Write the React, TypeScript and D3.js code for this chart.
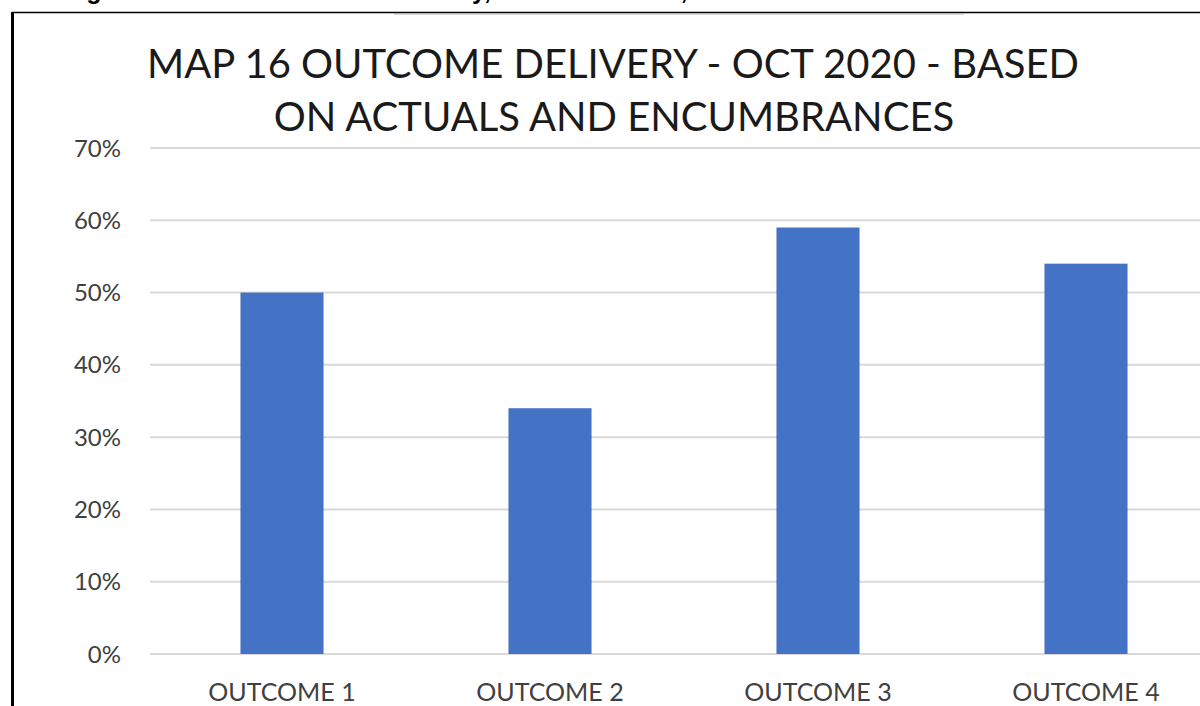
import React from "react";
import * as d3 from "d3";

const categories = ["OUTCOME 1", "OUTCOME 2", "OUTCOME 3", "OUTCOME 4"];
const values = [0.5, 0.34, 0.59, 0.54];
const yTicks = [0, 0.1, 0.2, 0.3, 0.4, 0.5, 0.6, 0.7];
const titleLines = ["MAP 16 OUTCOME DELIVERY - OCT 2020 - BASED", "ON ACTUALS AND ENCUMBRANCES"];

export default function App() {
  const W = 1200, H = 706;
  const y = d3.scaleLinear().domain([0, 0.7]).range([654, 148]);
  const x = d3.scaleBand<string>().domain(categories).range([148, 1220]).paddingInner(0.69).paddingOuter(0.345);
  const fmt = d3.format(".0%");
  const font = "Lato, 'Open Sans', sans-serif";
  return (
    <svg width={W} height={H} style={{ position: "absolute", left: 0, top: 0, background: "#fff" }} fontFamily={font}>
      <rect x={0} y={0} width={W} height={H} fill="#fff" />
      {/* cut-off caption above frame */}
      <text y={-1} fontFamily="'Liberation Sans', Arial, sans-serif" fontWeight="bold" fontSize={25} fill="#000">
        <tspan x={64}>Figure 4: MAP 16 Outcome Delivery,</tspan>
        <tspan x={522}>October 2020, Based on Actuals</tspan>
      </text>
      {/* frame */}
      <line x1={12} x2={W} y1={12.5} y2={12.5} stroke="#000" strokeWidth={1.5} />
      <line x1={394} x2={964} y1={14} y2={14} stroke="#b0b0b0" strokeWidth={1.2} />
      <line x1={12.5} x2={12.5} y1={12} y2={H} stroke="#000" strokeWidth={3} />
      {/* gridlines */}
      {yTicks.map((t) => (
        <line key={t} x1={150} x2={W} y1={y(t)} y2={y(t)} stroke="#d9d9d9" strokeWidth={2} />
      ))}
      {yTicks.map((t) => (
        <text key={"l" + t} x={121} y={y(t)} dy="0.36em" textAnchor="end" fontSize={24} fill="#404040">{fmt(t)}</text>
      ))}
      {categories.map((c, i) => (
        <rect key={c} x={x(c)} y={y(values[i])} width={x.bandwidth()} height={y(0) - y(values[i])} fill="#4472c4" />
      ))}
      {categories.map((c) => (
        <text key={"c" + c} x={(x(c) as number) + x.bandwidth() / 2} y={701} textAnchor="middle" fontSize={25} fill="#404040">{c}</text>
      ))}
      <text x={613} y={78} textAnchor="middle" fontSize={40} fill="#1a1a1a">{titleLines[0]}</text>
      <text x={614} y={131} textAnchor="middle" fontSize={40} fill="#1a1a1a">{titleLines[1]}</text>
    </svg>
  );
}
